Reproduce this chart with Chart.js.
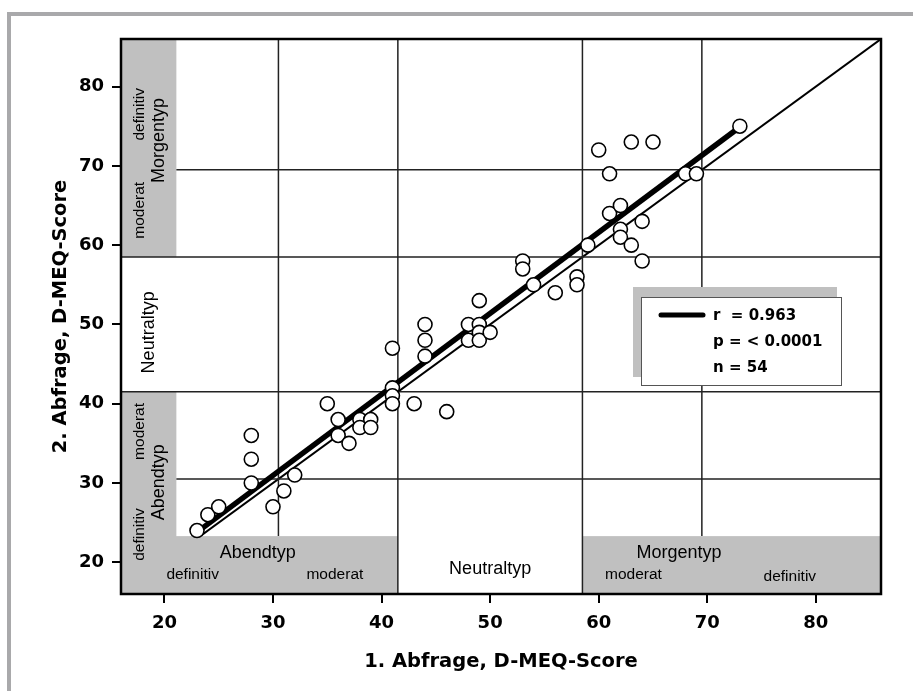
<!DOCTYPE html>
<html>
<head>
<meta charset="utf-8">
<script src="https://cdn.jsdelivr.net/npm/chart.js@4.4.1/dist/chart.umd.min.js"></script>
<style>
  html, body { margin: 0; padding: 0; background: #fff; }
  canvas { display: block; }
</style>
</head>
<body>
<canvas id="meqChart" width="913" height="691"></canvas>
<script>
// D-MEQ score: 1st vs 2nd questionnaire, one point per person (n = 54)
const abfrage1 = [23, 24, 25, 28, 28, 28, 30, 31, 32,
  35, 36, 36, 37, 38, 38, 39, 39, 41, 41, 41, 41, 43, 44, 44, 44, 46, 48, 48, 49, 49, 49, 49, 50,
  53, 53, 54, 56, 58, 58, 59, 60, 61, 61, 62, 62, 62, 63, 63, 64, 64, 65, 68, 69, 73];
const abfrage2 = [24, 26, 27, 36, 33, 30, 27, 29, 31,
  40, 38, 36, 35, 38, 37, 38, 37, 47, 42, 41, 40, 40, 50, 48, 46, 39, 50, 48, 53, 50, 49, 48, 49,
  58, 57, 55, 54, 56, 55, 60, 72, 69, 64, 65, 62, 61, 73, 60, 63, 58, 73, 69, 69, 75];

// regression line (thick) and line of identity (thin)
const regX = [23, 73];
const regY = [23.8, 74.9];
const diagX = [16, 86];
const diagY = [16, 86];

const axisMin = 16;
const axisMax = 86;
const tickValues = [20, 30, 40, 50, 60, 70, 80];

// chronotype cut-offs: def. Abend | mod. Abend | Neutral | mod. Morgen | def. Morgen
const typeBounds = [30.5, 41.5, 58.5, 69.5];

const stats = ['r  = 0.963', 'p = < 0.0001', 'n = 54'];

const toPoints = (xs, ys) => xs.map((v, i) => ({ x: v, y: ys[i] }));

// label placement inside the grey bands (data units)
const bottomLabels = [
  { text: 'Abendtyp', x: 28.6, y: 21.2, big: true },
  { text: 'definitiv', x: 22.6, y: 18.4 },
  { text: 'moderat', x: 35.7, y: 18.4 },
  { text: 'Neutraltyp', x: 50, y: 19.1, big: true },
  { text: 'Morgentyp', x: 67.4, y: 21.2, big: true },
  { text: 'moderat', x: 63.2, y: 18.4 },
  { text: 'definitiv', x: 77.6, y: 18.2 }
];
const sideLabels = [
  { text: 'definitiv', x: 17.7, y: 76.5 },
  { text: 'Morgentyp', x: 19.5, y: 73.2, big: true },
  { text: 'moderat', x: 17.7, y: 64.4 },
  { text: 'Neutraltyp', x: 18.6, y: 49.0, big: true },
  { text: 'moderat', x: 17.7, y: 36.5 },
  { text: 'Abendtyp', x: 19.5, y: 30.1, big: true },
  { text: 'definitiv', x: 17.7, y: 23.5 }
];
const stripEdgeX = 21.1;
const bandEdgeY = 23.3;

function drawTypeBands(chart) {
  const { x, y } = chart.scales;
  const ctx = chart.ctx;
  const L = x.getPixelForValue(axisMin);
  const R = x.getPixelForValue(axisMax);
  const T = y.getPixelForValue(axisMax);
  const B = y.getPixelForValue(axisMin);
  const sx = x.getPixelForValue(stripEdgeX);
  const sy = y.getPixelForValue(bandEdgeY);
  const bx = typeBounds.map(v => x.getPixelForValue(v));
  const by = typeBounds.map(v => y.getPixelForValue(v));

  ctx.save();
  ctx.fillStyle = '#c0c0c0';
  ctx.fillRect(L, sy, bx[1] - L, B - sy);
  ctx.fillRect(bx[2], sy, R - bx[2], B - sy);
  ctx.fillRect(L, by[1], sx - L, B - by[1]);
  ctx.fillRect(L, T, sx - L, by[2] - T);

  ctx.strokeStyle = '#222';
  ctx.lineWidth = 1.5;
  ctx.beginPath();
  ctx.moveTo(bx[1], T); ctx.lineTo(bx[1], B);
  ctx.moveTo(bx[2], T); ctx.lineTo(bx[2], B);
  ctx.moveTo(bx[0], T); ctx.lineTo(bx[0], sy);
  ctx.moveTo(bx[3], T); ctx.lineTo(bx[3], sy);
  ctx.moveTo(L, by[1]); ctx.lineTo(R, by[1]);
  ctx.moveTo(L, by[2]); ctx.lineTo(R, by[2]);
  ctx.moveTo(sx, by[0]); ctx.lineTo(R, by[0]);
  ctx.moveTo(sx, by[3]); ctx.lineTo(R, by[3]);
  ctx.stroke();

  ctx.fillStyle = '#000';
  ctx.textAlign = 'center';
  ctx.textBaseline = 'middle';
  bottomLabels.forEach(l => {
    ctx.font = (l.big ? '18px' : '15.5px') + ' "Liberation Sans", Arial, sans-serif';
    ctx.fillText(l.text, x.getPixelForValue(l.x), y.getPixelForValue(l.y));
  });
  sideLabels.forEach(l => {
    ctx.font = (l.big ? '18px' : '15.5px') + ' "Liberation Sans", Arial, sans-serif';
    ctx.save();
    ctx.translate(x.getPixelForValue(l.x), y.getPixelForValue(l.y));
    ctx.rotate(-Math.PI / 2);
    ctx.fillText(l.text, 0, 0);
    ctx.restore();
  });
  ctx.restore();
}

function drawStatsBox(chart) {
  const ctx = chart.ctx;
  ctx.save();
  ctx.fillStyle = '#c0c0c0';
  ctx.fillRect(633, 287, 204, 90);
  ctx.fillStyle = '#fff';
  ctx.fillRect(641, 297, 201, 89);
  ctx.strokeStyle = '#555';
  ctx.lineWidth = 1;
  ctx.strokeRect(641.5, 297.5, 200, 88);

  ctx.strokeStyle = '#000';
  ctx.lineWidth = 5;
  ctx.lineCap = 'round';
  ctx.beginPath();
  ctx.moveTo(661, 315);
  ctx.lineTo(703, 315);
  ctx.stroke();

  ctx.fillStyle = '#000';
  ctx.font = 'bold 15px "DejaVu Sans", sans-serif';
  ctx.textAlign = 'left';
  ctx.textBaseline = 'middle';
  stats.forEach((s, i) => ctx.fillText(s, 713, 316 + i * 26));
  ctx.restore();
}

const meqDecor = {
  id: 'meqDecor',
  beforeDraw(chart) {
    const ctx = chart.ctx;
    ctx.save();
    ctx.fillStyle = '#fff';
    ctx.fillRect(0, 0, chart.width, chart.height);
    ctx.fillStyle = '#a9a9ab';
    ctx.fillRect(7, 12, chart.width - 7, 4);
    ctx.fillRect(7, 12, 4, chart.height - 12);
    ctx.restore();
  },
  afterDatasetDraw(chart, args) {
    // bands cover the identity line in the grey corner
    if (args.index === 2) drawTypeBands(chart);
  },
  afterDraw(chart) {
    const a = chart.chartArea;
    const ctx = chart.ctx;
    ctx.save();
    ctx.strokeStyle = '#000';
    ctx.lineWidth = 2.5;
    ctx.strokeRect(a.left, a.top, a.right - a.left, a.bottom - a.top);
    ctx.restore();
    drawStatsBox(chart);
  }
};

const tickFont = { family: '"DejaVu Sans", sans-serif', weight: 'bold', size: 18 };
const titleFont = { family: '"DejaVu Sans", sans-serif', weight: 'bold', size: 19.5 };

new Chart(document.getElementById('meqChart').getContext('2d'), {
  type: 'scatter',
  data: {
    datasets: [
      {
        label: 'Probanden',
        data: toPoints(abfrage1, abfrage2),
        pointRadius: 7,
        pointBackgroundColor: '#fff',
        pointBorderColor: '#000',
        pointBorderWidth: 1.6
      },
      {
        label: 'Regression',
        data: toPoints(regX, regY),
        showLine: true,
        borderColor: '#000',
        borderWidth: 5.5,
        pointRadius: 0
      },
      {
        label: 'Identitaet',
        data: toPoints(diagX, diagY),
        showLine: true,
        borderColor: '#000',
        borderWidth: 2,
        pointRadius: 0
      }
    ]
  },
  options: {
    responsive: false,
    animation: false,
    devicePixelRatio: 1,
    layout: { padding: { top: 39, right: 32, left: 0, bottom: 0 } },
    plugins: {
      legend: { display: false },
      tooltip: { enabled: false }
    },
    scales: {
      x: {
        type: 'linear',
        min: axisMin,
        max: axisMax,
        afterBuildTicks: (scale) => { scale.ticks = tickValues.map(v => ({ value: v })); },
        afterFit: (scale) => { scale.height = 97; },
        border: { display: false },
        grid: { drawOnChartArea: false, drawTicks: true, tickLength: 9, color: '#000', lineWidth: 2 },
        ticks: { padding: 10, color: '#000', font: tickFont, maxRotation: 0 },
        title: { display: true, text: '1. Abfrage, D-MEQ-Score', color: '#000', font: titleFont, padding: { top: 0, bottom: 17 } }
      },
      y: {
        type: 'linear',
        min: axisMin,
        max: axisMax,
        afterBuildTicks: (scale) => { scale.ticks = tickValues.map(v => ({ value: v })); },
        afterFit: (scale) => { scale.width = 121; },
        border: { display: false },
        grid: { drawOnChartArea: false, drawTicks: true, tickLength: 9, color: '#000', lineWidth: 2 },
        ticks: { padding: 8, color: '#000', font: tickFont },
        title: { display: true, text: '2. Abfrage, D-MEQ-Score', color: '#000', font: titleFont, padding: { top: 49, bottom: 0 } }
      }
    }
  },
  plugins: [meqDecor]
});
</script>
</body>
</html>
